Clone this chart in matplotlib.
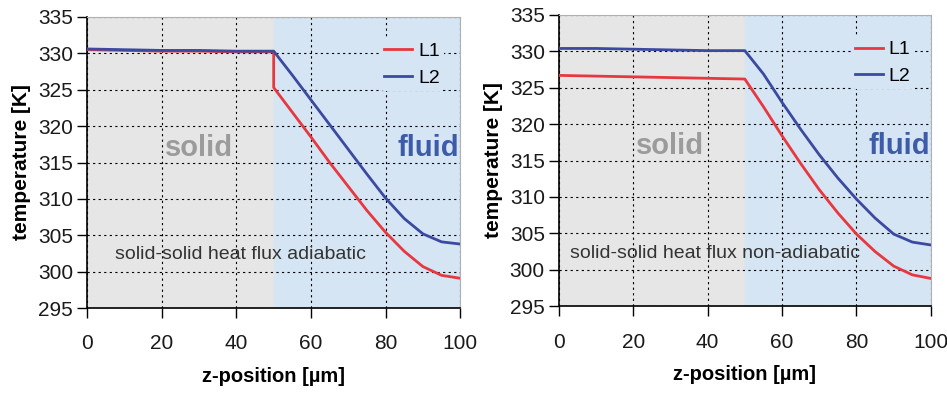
import matplotlib
matplotlib.use('Agg')
from matplotlib import pyplot as plt

plt.rcParams['font.family'] = ['Liberation Sans', 'DejaVu Sans']

# z-position [um]
z = [0, 10, 20, 30, 40, 50, 50, 55, 60, 65, 70, 75, 80, 85, 90, 95, 100]

# adiabatic case
adi_L1 = [330.5, 330.4, 330.3, 330.3, 330.2, 330.2, 325.3, 321.9, 318.5,
          315.0, 311.7, 308.4, 305.4, 302.8, 300.7, 299.5, 299.1]
adi_L2 = [330.6, 330.5, 330.4, 330.4, 330.3, 330.3, 330.3, 327.0, 323.6,
          320.2, 316.8, 313.4, 310.1, 307.3, 305.2, 304.1, 303.8]

# non-adiabatic case
non_L1 = [326.7, 326.6, 326.5, 326.4, 326.3, 326.2, 326.2, 322.4, 318.4,
          314.6, 311.0, 307.8, 304.9, 302.5, 300.5, 299.3, 298.8]
non_L2 = [330.4, 330.4, 330.3, 330.2, 330.1, 330.1, 330.1, 326.9, 323.0,
          319.3, 315.8, 312.6, 309.7, 307.1, 304.9, 303.8, 303.4]

xticks = [0, 20, 40, 60, 80, 100]
yticks = [295, 300, 305, 310, 315, 320, 325, 330, 335]

red = '#e8383f'
blue = '#3b4aa0'
gray_bg = '#e6e6e6'
blue_bg = '#d5e5f4'


def draw(ax, l1, l2, note):
    ax.axvspan(0, 50, color=gray_bg, zorder=0)
    ax.axvspan(50, 100, color=blue_bg, zorder=0)
    ax.grid(True, color='black', linestyle=(0, (2, 3)), linewidth=0.8)
    ax.set_axisbelow(True)
    ax.plot(z, l1, color=red, lw=2, label='L1', zorder=3)
    ax.plot(z, l2, color=blue, lw=2, label='L2', zorder=3)
    ax.set_xlim(0, 100)
    ax.set_ylim(295, 335)
    ax.set_xticks(xticks)
    ax.set_yticks(yticks)
    ax.tick_params(labelsize=15, direction='out', length=7, width=1,
                   labelcolor='#1a1a1a')
    ax.tick_params(axis='x', pad=12)
    ax.tick_params(axis='y', pad=3)
    for s in ['top', 'right']:
        ax.spines[s].set_color('#b0b0b0')
    for s in ['left', 'bottom']:
        ax.spines[s].set_linewidth(1.2)
    ax.set_xlabel('z-position [µm]', fontsize=14.5, fontweight='bold',
                  labelpad=10)
    ax.set_ylabel('temperature [K]', fontsize=15, fontweight='bold',
                  labelpad=5)
    ax.text(30, 317.0, 'solid', color='#9b9b9b', fontsize=21,
            fontweight='bold', ha='center', va='center')
    ax.text(91.5, 317.0, 'fluid', color='#3c5ba8', fontsize=21,
            fontweight='bold', ha='center', va='center')
    ax.text(note[1], 302.3, note[0], color='#333333', fontsize=14,
            ha='center', va='center')
    leg = ax.legend(loc='upper left', bbox_to_anchor=(0.785, 0.925),
                    frameon=True, fontsize=14, handlelength=1.45,
                    handletextpad=0.3, labelspacing=0.45, borderpad=0.2,
                    borderaxespad=0)
    leg.get_frame().set_facecolor(blue_bg)
    leg.get_frame().set_edgecolor('none')
    leg.get_frame().set_alpha(1)


fig = plt.figure(figsize=(9.47, 3.94), dpi=100)
ax1 = fig.add_axes([0.092, 0.218, 0.394, 0.739])
ax2 = fig.add_axes([0.590, 0.223, 0.393, 0.739])

draw(ax1, adi_L1, adi_L2, ('solid-solid heat flux adiabatic', 41))
draw(ax2, non_L1, non_L2, ('solid-solid heat flux non-adiabatic', 42))

fig.savefig('out.png', dpi=100)
